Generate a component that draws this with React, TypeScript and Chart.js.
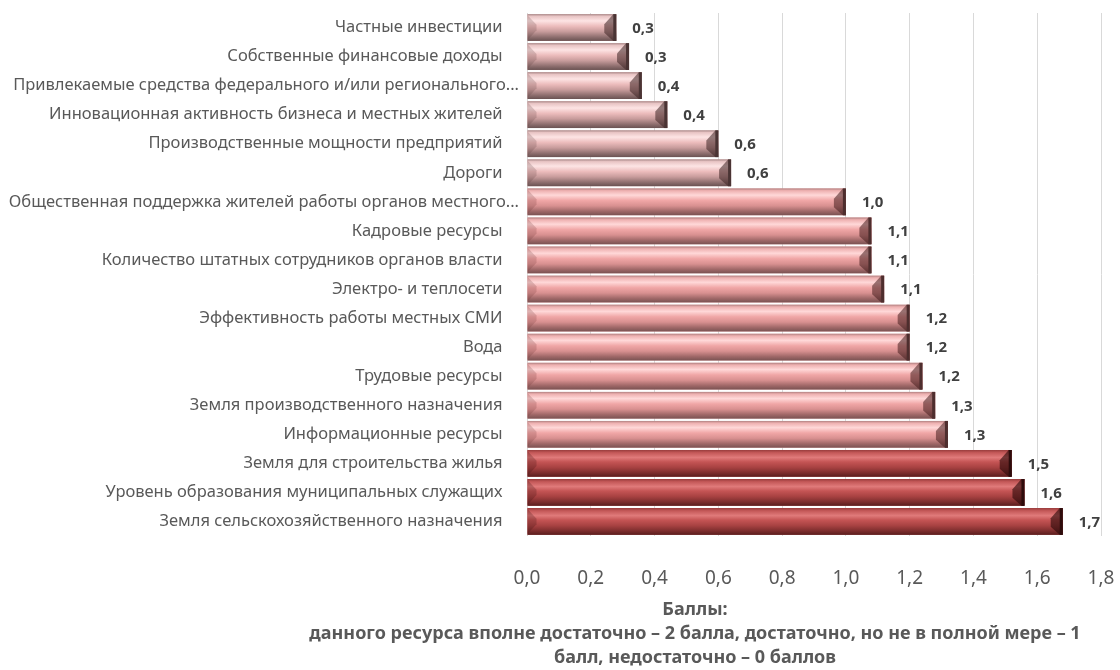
import React, { useEffect, useRef } from "react";
import { Chart, registerables } from "chart.js";

Chart.register(...registerables);

const categories: string[] = [
  "Частные инвестиции",
  "Собственные финансовые доходы",
  "Привлекаемые средства федерального и/или регионального...",
  "Инновационная активность бизнеса и местных жителей",
  "Производственные мощности предприятий",
  "Дороги",
  "Общественная поддержка жителей работы органов местного...",
  "Кадровые ресурсы",
  "Количество штатных сотрудников органов власти",
  "Электро- и теплосети",
  "Эффективность работы местных СМИ",
  "Вода",
  "Трудовые ресурсы",
  "Земля производственного назначения",
  "Информационные ресурсы",
  "Земля для строительства жилья",
  "Уровень образования муниципальных служащих",
  "Земля сельскохозяйственного назначения",
];

const scores: number[] = [
  0.28, 0.32, 0.36, 0.44, 0.6, 0.64, 1.0, 1.08, 1.08, 1.12, 1.2, 1.2, 1.24, 1.28,
  1.32, 1.52, 1.56, 1.68,
];

const xTickValues: number[] = [0, 0.2, 0.4, 0.6, 0.8, 1.0, 1.2, 1.4, 1.6, 1.8];

const axisTitleLines: string[] = [
  "Баллы:",
  "данного ресурса вполне достаточно – 2 балла, достаточно, но не в полной мере – 1",
  "балл, недостаточно – 0 баллов",
];

const fmt = (v: number) => (Math.round(v * 10) / 10).toFixed(1).replace(".", ",");

type Palette = { base: string; stops: [number, string][]; cap: string; edge: string; wedge: string };

const grayPink: Palette = {
  base: "#d8aaaa",
  stops: [
    [0, "#a88888"],
    [0.08, "#e8c4c4"],
    [0.25, "#fde4e4"],
    [0.45, "#ecbcbc"],
    [0.65, "#c89c9c"],
    [0.85, "#907070"],
    [1, "#6a5252"],
  ],
  cap: "rgba(60,35,35,0.55)",
  edge: "#4a3434",
  wedge: "rgba(90,60,60,0.22)",
};
const pink: Palette = {
  base: "#e8a4a4",
  stops: [
    [0, "#b08080"],
    [0.08, "#eeb0b0"],
    [0.25, "#ffd8d8"],
    [0.45, "#f0a6a6"],
    [0.65, "#d89090"],
    [0.85, "#a06868"],
    [1, "#7a5252"],
  ],
  cap: "rgba(70,30,30,0.55)",
  edge: "#4e2e2e",
  wedge: "rgba(110,50,50,0.22)",
};
const darkRed: Palette = {
  base: "#b84848",
  stops: [
    [0, "#983c3c"],
    [0.1, "#c45858"],
    [0.28, "#e07a7a"],
    [0.45, "#c45454"],
    [0.65, "#a84242"],
    [0.85, "#7e2e2e"],
    [1, "#5a1e1e"],
  ],
  cap: "rgba(40,8,8,0.6)",
  edge: "#2e0c0c",
  wedge: "rgba(60,15,15,0.25)",
};

const paletteFor = (v: number): Palette => (v < 0.8 ? grayPink : v < 1.4 ? pink : darkRed);

const bevelPlugin = {
  id: "bevelBars",
  afterDatasetsDraw(chart: any) {
    const ctx: CanvasRenderingContext2D = chart.ctx;
    const meta = chart.getDatasetMeta(0);
    ctx.save();
    meta.data.forEach((el: any, i: number) => {
      const { x, y, base, height } = el.getProps(["x", "y", "base", "height"], true);
      const left = Math.min(base, x);
      const right = Math.max(base, x);
      const top = y - height / 2;
      const bot = y + height / 2;
      const h = bot - top;
      const pal = paletteFor(scores[i]);
      const g = ctx.createLinearGradient(0, top, 0, bot);
      pal.stops.forEach(([o, c]) => g.addColorStop(o, c));
      ctx.fillStyle = g;
      ctx.fillRect(left, top, right - left, h);
      // left bevel wedge
      ctx.fillStyle = pal.wedge;
      ctx.beginPath();
      ctx.moveTo(left, top + 1);
      ctx.lineTo(left + 9, y - h * 0.1);
      ctx.lineTo(left + 9, y + h * 0.1);
      ctx.lineTo(left, bot - 1);
      ctx.closePath();
      ctx.fill();
      // right end cap
      const w = Math.min(12, (right - left) / 3);
      ctx.fillStyle = pal.cap;
      ctx.beginPath();
      ctx.moveTo(right - 3, top);
      ctx.lineTo(right, top);
      ctx.lineTo(right, bot);
      ctx.lineTo(right - 3, bot);
      ctx.lineTo(right - w, bot - h * 0.3);
      ctx.lineTo(right - w, top + h * 0.38);
      ctx.closePath();
      ctx.fill();
      ctx.fillStyle = pal.edge;
      ctx.fillRect(right - 3, top, 3, h);
      // value label
      ctx.fillStyle = "#404040";
      ctx.font = "bold 15px 'Noto Sans'";
      ctx.textAlign = "left";
      ctx.textBaseline = "middle";
      ctx.fillText(fmt(scores[i]), right + 16, y + 1);
    });
    ctx.restore();
  },
};

const axisTitlePlugin = {
  id: "axisTitleText",
  afterDraw(chart: any) {
    const ctx: CanvasRenderingContext2D = chart.ctx;
    ctx.save();
    ctx.fillStyle = "#595959";
    ctx.font = "bold 18px 'Noto Sans'";
    ctx.textAlign = "center";
    ctx.textBaseline = "middle";
    const ys = [610, 634, 658];
    axisTitleLines.forEach((line, i) => ctx.fillText(line, 695, ys[i]));
    ctx.restore();
  },
};

export default function App() {
  const ref = useRef<HTMLCanvasElement | null>(null);
  useEffect(() => {
    if (!ref.current) return;
    const chart = new Chart(ref.current, {
      type: "bar",
      data: {
        labels: categories,
        datasets: [
          {
            data: scores,
            backgroundColor: scores.map((v) => paletteFor(v).base),
            borderWidth: 0,
            categoryPercentage: 0.92,
            barPercentage: 1,
          },
        ],
      },
      options: {
        indexAxis: "y",
        animation: false,
        responsive: false,
        maintainAspectRatio: false,
        layout: { padding: { top: 13, right: 19, bottom: 0, left: 0 } },
        plugins: { legend: { display: false }, tooltip: { enabled: false }, title: { display: false } },
        scales: {
          x: {
            min: 0,
            max: 1.8,
            afterBuildTicks: (s: any) => {
              s.ticks = xTickValues.map((v) => ({ value: v }));
            },
            afterFit: (s: any) => {
              s.height = 134;
              s.paddingLeft = 0;
              s.paddingRight = 0;
            },
            grid: { color: "#d9d9d9", drawTicks: false },
            border: { display: false },
            ticks: {
              padding: 31,
              color: "#595959",
              font: { family: "'Noto Sans'", size: 19 },
              callback: (v: any) => fmt(Number(v)),
              maxRotation: 0,
            },
          },
          y: {
            afterFit: (s: any) => {
              s.width = 527;
              s.paddingTop = 0;
              s.paddingBottom = 0;
            },
            grid: { display: false, drawTicks: false },
            border: { display: false },
            ticks: {
              padding: 8,
              color: "#595959",
              font: { family: "'Noto Sans'", size: 16.5 },
              autoSkip: false,
              callback: (_v: any, i: number) => {
                const s = categories[i];
                return s.endsWith("...") ? s : s + "\u2002\u2002";
              },
            },
          },
        },
      },
      plugins: [bevelPlugin, axisTitlePlugin],
    });
    return () => chart.destroy();
  }, []);
  return (
    <div style={{ position: "absolute", left: 0, top: 0, width: 1120, height: 670, background: "#fff" }}>
      <canvas ref={ref} width={1120} height={670} style={{ display: "block" }} />
    </div>
  );
}
